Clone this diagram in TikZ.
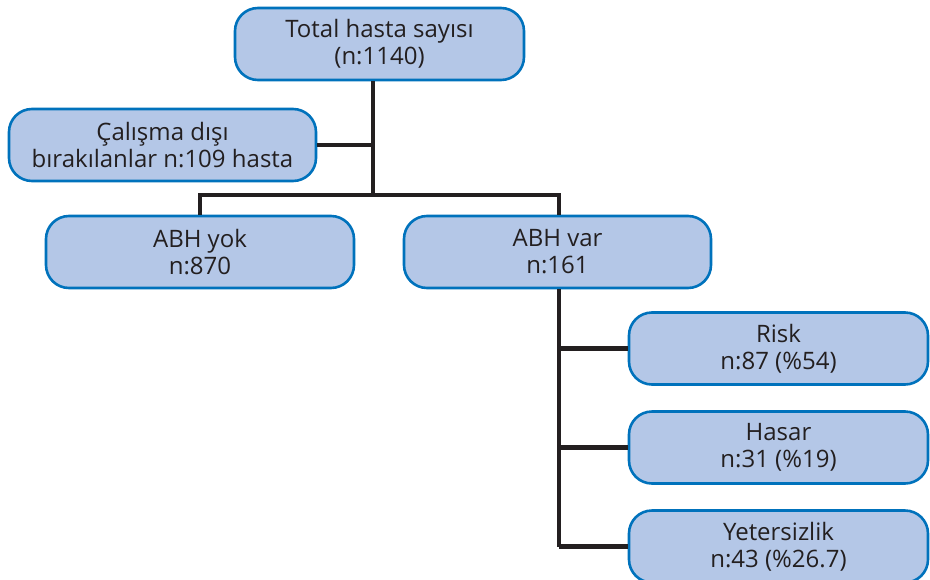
\documentclass[tikz,border=0pt]{standalone}
\usepackage{fontspec}
\setmainfont{Open Sans}
\definecolor{boxfill}{RGB}{180,199,231}
\definecolor{boxline}{RGB}{0,114,188}
\definecolor{ink}{RGB}{35,31,32}
\begin{document}
\begin{tikzpicture}[x=1pt,y=-1pt,
  box/.style={draw=boxline,line width=2.6pt,fill=boxfill,rounded corners=23pt,
    minimum height=72pt,align=center,text=ink,inner sep=0pt,
    font=\fontsize{24pt}{27pt}\selectfont},
  link/.style={draw=ink,line width=4.5pt}]
\clip (0,0) rectangle (930,579);
\useasboundingbox (0,0) rectangle (930,579);
\node[box,minimum width=289pt] (top) at (379.5,44) {Total hasta sayısı\\(n:1140)};
\node[box,minimum width=307pt] (cal) at (162.5,145) {Çalışma dışı\\bırakılanlar n:109 hasta};
\node[box,minimum width=308pt] (yok) at (200,252) {ABH yok\\n:870};
\node[box,minimum width=307pt] (var) at (557.5,252) {ABH var\\n:161};
\node[box,minimum width=299pt] (risk) at (778.5,348.5) {Risk\\n:87 (\%54)};
\node[box,minimum width=299pt] (has) at (778.5,447.5) {Hasar\\n:31 (\%19)};
\node[box,minimum width=299pt] (yet) at (778.5,546.5) {Yetersizlik\\n:43 (\%26.7)};
\coordinate (j1) at (373,195);
\coordinate (j2) at (559,0);
\draw[link] (top.south -| j1) -- (j1);
\draw[link] (cal.east) -- (cal.east -| j1);
\draw[link] (yok.north) -- (yok.north |- j1) -- (j1 -| j2) -- (var.north -| j2);
\draw[link] (var.south -| j2) -- (yet.west -| j2);
\draw[link] (risk.west -| j2) -- (risk.west);
\draw[link] (has.west -| j2) -- (has.west);
\draw[link] (yet.west -| j2) -- (yet.west);
\end{tikzpicture}
\end{document}
